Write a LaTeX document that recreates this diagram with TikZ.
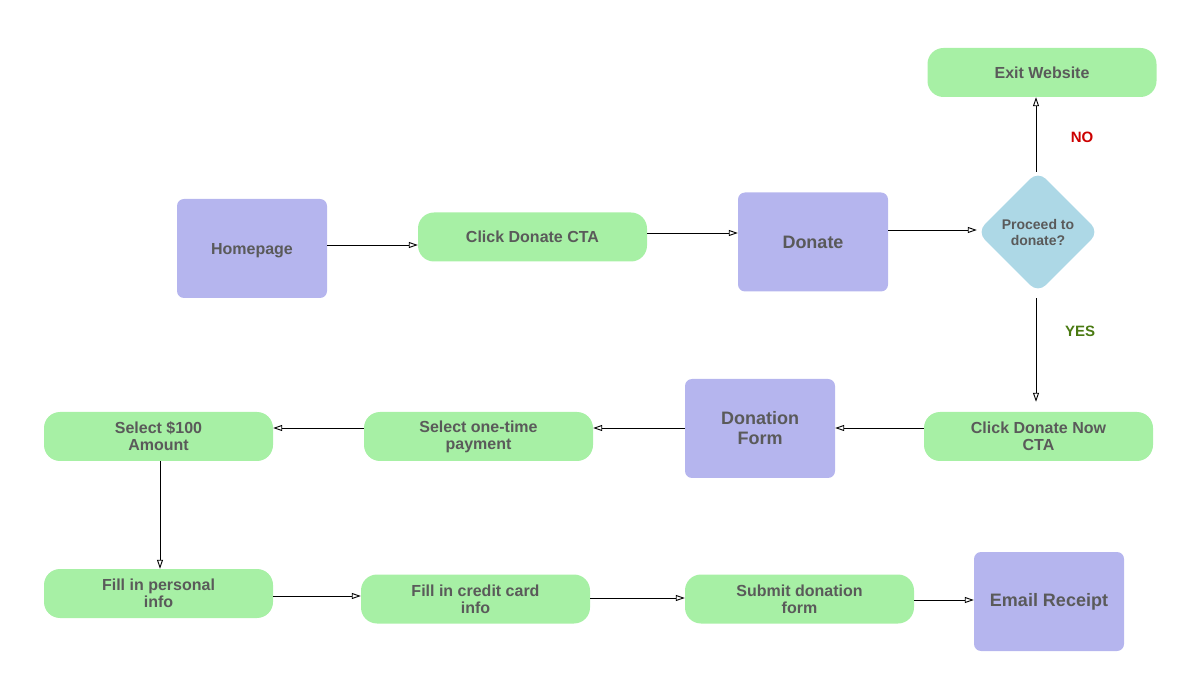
\documentclass[tikz,border=0pt]{standalone}
\usepackage{fontspec}
\setmainfont{Liberation Sans}
\usetikzlibrary{arrows.meta,shapes.geometric}
\definecolor{pagebox}{HTML}{B5B5EE}
\definecolor{actbox}{HTML}{A7F0A5}
\definecolor{choice}{HTML}{ADD8E6}
\definecolor{txt}{HTML}{5A5A5A}
\definecolor{nored}{HTML}{CC0000}
\definecolor{yesgreen}{HTML}{4A7A12}
\tikzset{
  base/.style={draw=none, text=txt, font=\bfseries\fontsize{16}{17}\selectfont, align=center, inner sep=0pt},
  pagenode/.style={base, fill=pagebox, rounded corners=7pt, minimum width=150pt, minimum height=99pt},
  actnode/.style={base, fill=actbox, rounded corners=16pt, minimum width=229pt, minimum height=49pt},
  decide/.style={base, diamond, fill=choice, rounded corners=11pt, minimum width=122pt, minimum height=122pt, font=\bfseries\fontsize{14}{16}\selectfont},
  flow/.style={draw=black, line width=0.9pt, -{Triangle[open, length=9pt, width=6pt]}},
  big/.style={font=\bfseries\fontsize{18}{20}\selectfont}
}
\begin{document}
\begin{tikzpicture}[x=1pt, y=-1pt]
\useasboundingbox (0,0) rectangle (1200,700);
% top row
\node[pagenode, text depth=0pt] (hp) at (252,248.5) {Homepage};
\node[actnode] (cta) at (532.5,237) {Click Donate CTA};
\node[pagenode, big] (don) at (813,242) {Donate};
\node[decide] (dec) at (1038,232) {Proceed to\\donate?};
\node[actnode, text depth=0pt] (exit) at (1042,72.5) {Exit Website};
\node[font=\bfseries\fontsize{15}{17}\selectfont, text=nored] (no) at (1082,137) {NO};
\node[font=\bfseries\fontsize{15}{17}\selectfont, text=yesgreen] (yes) at (1080,331) {YES};
% middle row
\node[actnode] (now) at (1038.5,436.5) {Click Donate Now\\CTA};
\node[pagenode, big] (form) at (760,428.5) {Donation\\Form};
\node[actnode] (once) at (478.5,436.5) {Select one-time\\payment};
\node[actnode] (amt) at (158.5,436.5) {Select \$100\\Amount};
% bottom row
\node[actnode] (pers) at (158.5,593.5) {Fill in personal\\info};
\node[actnode] (card) at (475.5,599) {Fill in credit card\\info};
\node[actnode] (sub) at (799.5,599) {Submit donation\\form};
\node[pagenode, big] (mail) at (1049,601.5) {Email Receipt};
% connectors (positive yshift moves a point upwards)
\draw[flow] ([yshift=3.5pt]hp.east) -- ([yshift=3.5pt]hp.east -| cta.west);
\draw[flow] ([yshift=4pt]cta.east) -- ([yshift=4pt]cta.east -| don.west);
\draw[flow] ([yshift=12pt]don.east) -- ([yshift=12pt]don.east -| dec.west);
\draw[flow] ([xshift=-2pt,yshift=-1pt]dec.north) -- ([xshift=-2pt]dec.north |- exit.south);
\draw[flow] ([xshift=-2pt,yshift=-5pt]dec.south) -- ([xshift=-2pt,yshift=10pt]dec.south |- now.north);
\draw[flow] ([yshift=8.5pt]now.west) -- ([yshift=8.5pt]now.west -| form.east);
\draw[flow] ([yshift=0.5pt]form.west) -- ([yshift=0.5pt]form.west -| once.east);
\draw[flow] ([yshift=8.5pt]once.west) -- ([yshift=8.5pt]once.west -| amt.east);
\draw[flow] ([xshift=1.5pt]amt.south) -- ([xshift=1.5pt]pers.north);
\draw[flow] ([yshift=-2.5pt]pers.east) -- ([yshift=-2.5pt]pers.east -| card.west);
\draw[flow] ([yshift=1pt]card.east) -- ([yshift=1pt]card.east -| sub.west);
\draw[flow] ([yshift=-1pt]sub.east) -- ([yshift=-1pt]sub.east -| mail.west);
\end{tikzpicture}
\end{document}
